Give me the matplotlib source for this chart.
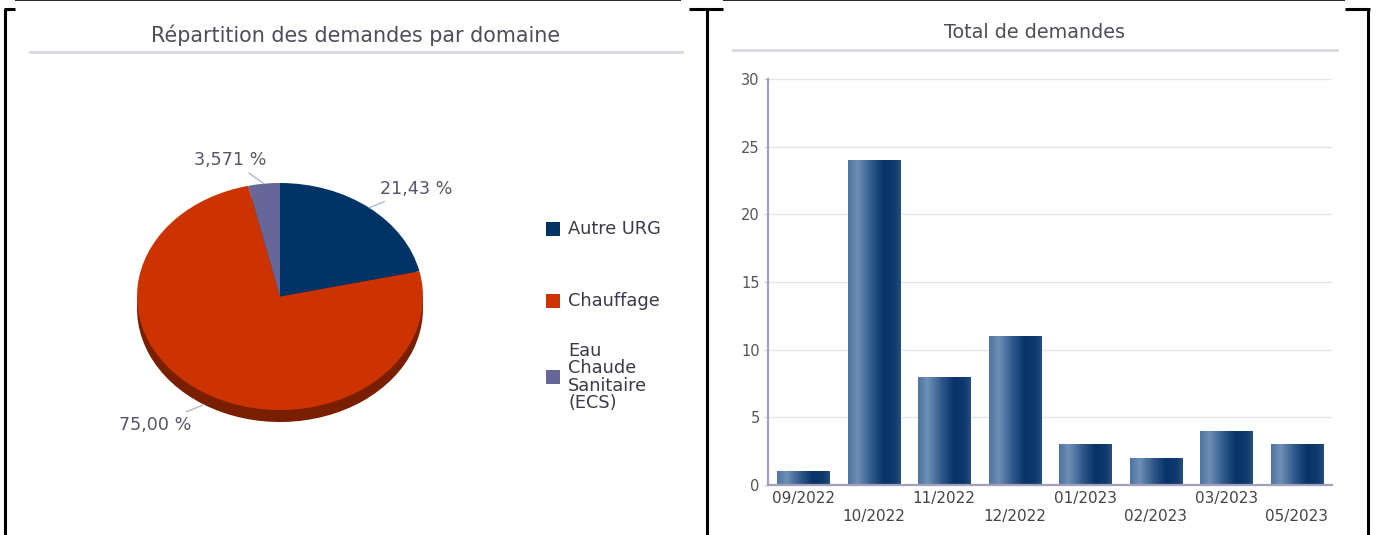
import numpy as np
import matplotlib
matplotlib.use("Agg")
import matplotlib.pyplot as plt
from matplotlib.colors import LinearSegmentedColormap
from matplotlib.patches import Rectangle

plt.rcParams["font.family"] = ["DejaVu Sans"]

# data
domains = ["Autre URG", "Chauffage", "Eau\nChaude\nSanitaire\n(ECS)"]
domain_share = [21.43, 75.00, 3.571]
domain_labels = ["21,43 %", "75,00 %", "3,571 %"]
domain_colors = ["#003366", "#cc3300", "#666699"]
domain_dark = ["#001a33", "#7a1e00", "#333355"]

months = ["09/2022", "10/2022", "11/2022", "12/2022", "01/2023", "02/2023", "03/2023", "05/2023"]
totals = [1, 24, 8, 11, 3, 2, 4, 3]

W, H = 1376, 535
fig = plt.figure(figsize=(W / 100, H / 100), dpi=100)

def rect(x0, y0, x1, y1):
    # pixel box (top-left origin) -> figure fraction
    return [x0 / W, 1 - y1 / H, (x1 - x0) / W, (y1 - y0) / H]

# overlay for borders / titles, pixel coords
bg = fig.add_axes([0, 0, 1, 1])
bg.set_xlim(0, W)
bg.set_ylim(H, 0)
bg.axis("off")
for xs, ys, lw in [((4, 15), (9, 9), 2.2), ((15, 681), (0.3, 0.3), 1.2), ((689, 723), (9, 9), 2.2),
                   ((723, 1345), (0.3, 0.3), 1.2), ((1345, 1370), (9, 9), 2.2),
                   ((5, 5), (9, H), 2.2), ((707, 707), (9, H), 2.2), ((1368, 1368), (9, H), 2.2)]:
    bg.plot(xs, ys, color="black", lw=lw, solid_capstyle="butt")

title_col = "#4d4d5c"
bg.text(356, 35, "Répartition des demandes par domaine", ha="center", va="center",
        fontsize=14.9, color=title_col)
bg.plot([30, 682], [52, 52], color="#d8d8e6", lw=2)
bg.text(1035, 33, "Total de demandes", ha="center", va="center",
        fontsize=13.8, color=title_col)
bg.plot([733, 1337], [50, 50], color="#d8d8e6", lw=2)

# ---- pie (elliptic, with depth) ----
cx, cy, rx, ry = 280, 296.5, 143, 113.5
pl, pr, pt, pb = 100, 460, 140, 450
pax = fig.add_axes(rect(pl, pt, pr, pb))
pax.axis("off")
depth = 12 / ry

pax.pie(domain_share, colors=domain_dark, startangle=90, counterclock=False,
        center=(0, -depth), wedgeprops=dict(linewidth=0))
pax.add_patch(Rectangle((-1, -depth), 2, depth, color=domain_dark[1], lw=0, zorder=0.5))
wedges, _ = pax.pie(domain_share, colors=domain_colors, startangle=90, counterclock=False,
                    wedgeprops=dict(linewidth=0))
pax.set_aspect("auto")
pax.set_xlim(-(cx - pl) / rx, (pr - cx) / rx)
pax.set_ylim(-(pb - cy) / ry, (cy - pt) / ry)

offsets = [(47, 19), (-49, -20), (-34, 24)]
for w, lab, off in zip(wedges, domain_labels, offsets):
    ang = np.deg2rad((w.theta1 + w.theta2) / 2)
    ex, ey = np.cos(ang), np.sin(ang)
    if ey < 0:
        ey -= depth
    pax.annotate(lab, xy=(ex, ey), xytext=off, textcoords="offset pixels",
                 ha="center", va="center", fontsize=12.6, color="#55556a",
                 arrowprops=dict(arrowstyle="-", color="#b0b8d0", lw=1, shrinkA=2, shrinkB=0))

# legend drawn by hand
leg_y = [229, 301, 377]
for name, col, y in zip(domains, domain_colors, leg_y):
    bg.add_patch(Rectangle((546, y - 7), 14, 14, color=col, lw=0))
    bg.text(568, y, name, ha="left", va="center", fontsize=12.8, color="#3a3a4a",
            linespacing=0.97)

# ---- bars ----
bax = fig.add_axes(rect(768, 79, 1332, 485))
x = np.arange(len(months))
bars = bax.bar(x, totals, width=0.74, color="none", lw=0)
cmap = LinearSegmentedColormap.from_list("bar", [
    (0.0, "#4d739e"), (0.18, "#6f90b7"), (0.45, "#2f5889"),
    (0.68, "#08326a"), (0.88, "#0e3a6e"), (1.0, "#264e80")])
grad = np.linspace(0, 1, 256).reshape(1, -1)
for b in bars:
    im = bax.imshow(grad, cmap=cmap, aspect="auto", interpolation="bilinear", zorder=2,
                    extent=[b.get_x(), b.get_x() + b.get_width(), 0, b.get_height()])
    im.set_clip_path(b)
bax.set_xlim(-0.5, len(months) - 0.5)
bax.set_ylim(0, 30)
bax.set_yticks(range(0, 31, 5))
bax.grid(axis="y", color="#e6e6ea", lw=1, zorder=0)
bax.set_axisbelow(True)
for s in ["top", "right"]:
    bax.spines[s].set_visible(False)
for s in ["left", "bottom"]:
    bax.spines[s].set_color("#a0a0b8")
    bax.spines[s].set_linewidth(1.6)
    bax.spines[s].set_zorder(3)
bax.tick_params(axis="y", length=3, color="#d0d0da", labelsize=10.5, labelcolor="#555555", pad=3)
bax.set_xticks(x[::2])
bax.set_xticklabels(months[::2])
bax.set_xticks(x[1::2], minor=True)
bax.set_xticklabels(months[1::2], minor=True)
bax.tick_params(axis="x", which="major", length=0, pad=4, labelsize=11, labelcolor="#444444")
bax.tick_params(axis="x", which="minor", length=0, pad=17, labelsize=11, labelcolor="#444444")

fig.savefig("out.png", dpi=100)
